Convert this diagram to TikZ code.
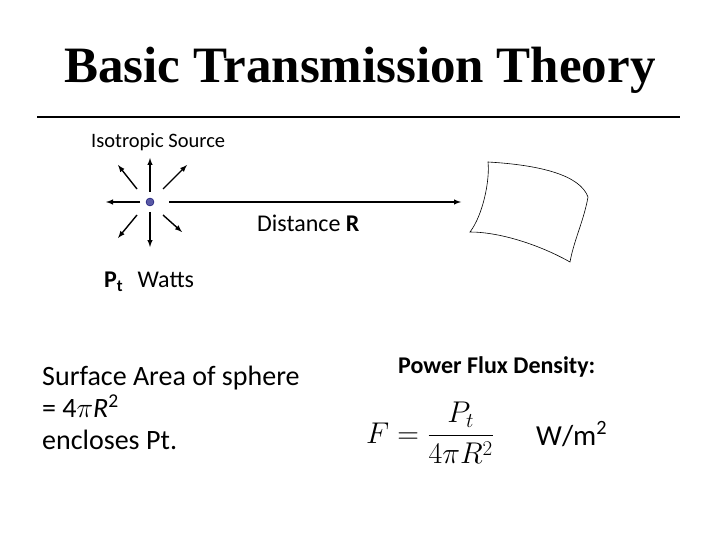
\documentclass[tikz,border=0pt]{standalone}
\usepackage{fix-cm}
\usepackage{fontspec}
\setmainfont{Carlito}
\newfontfamily\titlefont{Liberation Serif}
\begin{document}
\begin{tikzpicture}[x=1pt,y=-1pt,
  arr/.style={-latex,line width=1.4pt},
  txt/.style={inner sep=0pt,anchor=west}]
\useasboundingbox (0,0) rectangle (720,540);
\node (title) at (360,70) {\titlefont\bfseries\fontsize{51}{56}\selectfont Basic Transmission Theory};
\coordinate (l1) at (37,117); \coordinate (l2) at (680,117);
\draw[line width=1.8pt] (l1) -- (l2);
\node[txt] (iso) at (91,142) {\fontsize{20.5}{24}\selectfont Isotropic Source};
\node[circle,fill=blue!30!gray,draw=blue!40!black,minimum width=8pt,minimum height=6pt,inner sep=0pt] (dot) at (150,202) {};
\coordinate (u) at (150,158); \coordinate (d) at (150,247);
\coordinate (l) at (106,202); \coordinate (r) at (461,202);
\coordinate (ne) at (187,165); \coordinate (nw) at (118,165);
\coordinate (sw) at (118,238); \coordinate (se) at (182,232);
\draw[arr] (150,192) -- (u);
\draw[arr] (150,212) -- (d);
\draw[arr] (140,202) -- (l);
\draw[arr] (169,202) -- (r);
\draw[arr] (163,189) -- (ne);
\draw[arr] (137,189) -- (nw);
\draw[arr] (137,215) -- (sw);
\draw[arr] (163,215) -- (se);
\node[txt] (dist) at (257,223) {\fontsize{24}{28}\selectfont Distance \textbf{R}};
\draw[line width=0.6pt] (488,162) .. controls (540,165) and (580,175) .. (588,197)
  .. controls (584,220) and (574,240) .. (570,262)
  .. controls (540,245) and (500,232) .. (470,232)
  .. controls (483,215) and (490,180) .. (488,162) -- cycle;
\node[txt] (pt) at (104,282) {\fontsize{24}{28}\selectfont\textbf{P\textsubscript{t}}\hspace{0.6em}Watts};
\node[txt,align=left,anchor=north west,font=\fontsize{28}{32}\selectfont] (surf) at (42,366) {Surface Area of sphere\\ = 4$\pi$\textit{R}\textsuperscript{2}\\ encloses Pt.};
\node[txt] (pfd) at (398,367) {\fontsize{24}{28}\selectfont\textbf{Power Flux Density:}};
\node (F) at (430,433) {\fontsize{30}{36}\selectfont $\displaystyle F=\frac{P_t}{4\pi R^2}$};
\node[txt] (w) at (536,434) {\fontsize{29}{34}\selectfont W/m\textsuperscript{2}};
\end{tikzpicture}
\end{document}
